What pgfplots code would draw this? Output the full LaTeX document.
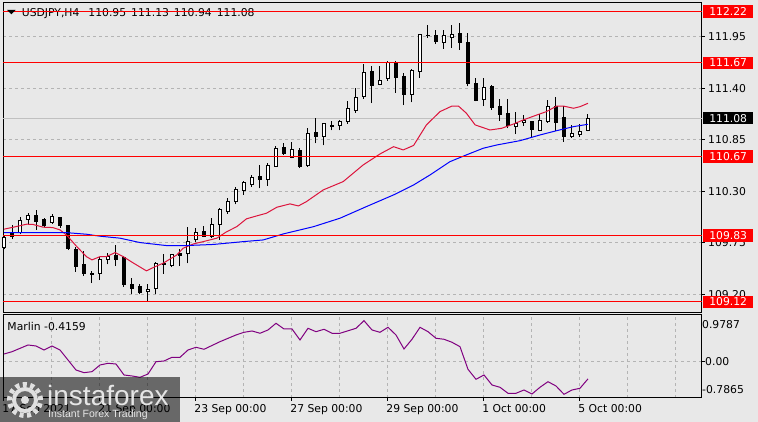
\documentclass[border=0pt]{standalone}
\usepackage{pgfplots}
\pgfplotsset{compat=1.18}
\usepackage{pgfplotstable}
\usepackage{fontspec}
\setmainfont{DejaVu Sans}
\newfontfamily\wmfont{Liberation Sans}
\definecolor{chartbg}{RGB}{232,232,232}
\definecolor{gridc}{RGB}{180,180,180}
\definecolor{bidc}{RGB}{192,192,192}
\definecolor{maRed}{RGB}{220,20,60}
\definecolor{maBlue}{RGB}{0,0,255}
\definecolor{marlinc}{RGB}{128,0,128}
\definecolor{lvl}{RGB}{255,0,0}

\pgfplotstableread{
i o h l c
0 109.70 109.82 109.68 109.81
1 109.85 109.94 109.79 109.82
2 109.86 110.02 109.84 109.99
3 110.00 110.07 109.94 110.04
4 110.04 110.10 109.89 109.98
5 110.00 110.01 109.92 109.93
6 109.97 110.06 109.95 110.03
7 110.02 110.03 109.91 109.93
8 109.93 109.94 109.67 109.69
9 109.68 109.70 109.44 109.50
10 109.52 109.66 109.40 109.42
11 109.41 109.45 109.32 109.42
12 109.42 109.60 109.35 109.57
13 109.57 109.64 109.52 109.60
14 109.61 109.73 109.50 109.57
15 109.59 109.61 109.28 109.30
16 109.30 109.37 109.20 109.26
17 109.28 109.31 109.20 109.22
18 109.23 109.31 109.12 109.25
19 109.26 109.54 109.20 109.53
20 109.52 109.63 109.42 109.53
21 109.51 109.63 109.49 109.62
22 109.64 109.68 109.50 109.61
23 109.63 109.92 109.53 109.76
24 109.78 109.91 109.76 109.86
25 109.87 109.93 109.81 109.82
26 109.82 110.01 109.80 109.95
27 109.95 110.12 109.78 110.10
28 110.08 110.23 110.06 110.19
29 110.19 110.34 110.16 110.32
30 110.31 110.41 110.26 110.39
31 110.37 110.47 110.35 110.45
32 110.46 110.58 110.33 110.43
33 110.43 110.60 110.36 110.58
34 110.56 110.78 110.56 110.76
35 110.77 110.82 110.69 110.70
36 110.66 110.83 110.65 110.75
37 110.74 110.76 110.55 110.56
38 110.57 110.97 110.56 110.92
39 110.93 111.08 110.81 110.88
40 110.88 111.03 110.79 111.02
41 110.995 111.05 110.95 111.00
42 111.00 111.06 110.95 111.04
43 111.04 111.26 111.02 111.18
44 111.16 111.40 111.14 111.30
45 111.31 111.66 111.29 111.57
46 111.58 111.64 111.24 111.43
47 111.44 111.64 111.43 111.48
48 111.50 111.69 111.48 111.67
49 111.66 111.69 111.35 111.51
50 111.52 111.56 111.22 111.33
51 111.33 111.61 111.25 111.59
52 111.58 111.97 111.51 111.97
53 111.96 112.07 111.94 111.965
54 111.96 112.02 111.87 111.90
55 111.89 112.02 111.82 111.96
56 111.94 112.08 111.83 111.97
57 111.98 112.10 111.81 111.89
58 111.89 111.99 111.42 111.45
59 111.45 111.51 111.26 111.27
60 111.28 111.51 111.21 111.41
61 111.42 111.43 111.17 111.19
62 111.20 111.28 111.05 111.12
63 111.13 111.28 110.97 111.00
64 110.99 111.15 110.91 111.02
65 111.03 111.11 111.00 111.05
66 111.04 111.05 110.88 110.96
67 110.95 111.13 110.94 111.06
68 111.04 111.27 111.03 111.21
69 111.21 111.31 110.94 111.03
70 111.09 111.21 110.83 110.88
71 110.88 111.01 110.87 110.92
72 110.91 111.02 110.88 110.94
73 110.95 111.13 110.94 111.08
}\ohlc

\pgfplotstableread{
i v
0 109.895
1.16 109.916
2.84 109.948
3.6 109.946
4.9 109.916
6.1 109.912
7 109.887
7.8 109.834
9.1 109.709
10.3 109.602
11 109.567
12 109.602
12.8 109.602
13.9 109.645
14.9 109.602
16.2 109.532
17.8 109.450
18.9 109.495
19.9 109.532
21.6 109.620
22.4 109.692
23.7 109.738
24.9 109.762
26.6 109.799
27.8 109.866
29.1 109.922
30.3 110.005
31.6 110.037
32.8 110.065
34.1 110.129
35.75 110.165
36.8 110.143
37.8 110.189
39.9 110.314
42.4 110.403
44.9 110.581
47 110.698
48.7 110.776
49.9 110.741
51.2 110.789
52.8 111.008
54.5 111.150
56 111.210
56.8 111.210
57.8 111.133
58.9 111.008
60.75 110.954
62.2 110.972
63.7 111.018
64.9 111.061
66.6 111.114
67.8 111.150
69.1 111.210
69.9 111.210
71.2 111.186
72 111.203
73 111.239
}\mared

\pgfplotstableread{
i v
0 109.858
7.8 109.858
10.3 109.841
12 109.820
14.5 109.799
17 109.752
20.3 109.720
22.8 109.720
26.2 109.732
29.9 109.762
32.4 109.780
34.9 109.844
38.7 109.922
42 110.012
45.3 110.136
48.7 110.261
51.2 110.367
53.25 110.474
55.75 110.616
57.8 110.688
59.9 110.759
61.6 110.794
64.5 110.840
67 110.901
69.1 110.947
71.2 110.990
73 111.015
}\mablue

\pgfplotstableread{
i v
0 0.180
1 0.235
3 0.396
4 0.372
5 0.276
6 0.372
7 0.276
8 0.036
9 -0.204
10 -0.268
11 -0.244
12 -0.084
13 -0.043
14 -0.060
15 -0.323
16 -0.347
17 -0.379
18 -0.300
19 -0.005
20 0.012
21 0.101
22 0.101
23 0.276
24 0.341
25 0.293
27 0.475
29 0.636
30 0.700
31 0.732
32 0.677
33 0.756
34 0.916
35 0.780
36 0.780
37 0.516
38 0.796
39 0.715
40 0.772
41 0.677
42 0.677
44 0.796
45 0.9787
46 0.756
47 0.700
48 0.820
49 0.636
50 0.300
51 0.533
52 0.820
53 0.715
54 0.557
55 0.533
56 0.461
57 0.355
58 -0.187
59 -0.427
60 -0.323
61 -0.563
62 -0.618
63 -0.762
64 -0.762
65 -0.683
66 -0.779
67 -0.618
68 -0.484
69 -0.587
70 -0.7865
71 -0.683
72 -0.642
73 -0.4159
}\marlin

\begin{document}
\fontsize{10.8pt}{13pt}\selectfont
\begin{tikzpicture}
\useasboundingbox (0pt,0pt) rectangle (758pt,422pt);
\fill[chartbg] (0pt,0pt) rectangle (758pt,422pt);

% ---------------- main price panel ----------------
\begin{axis}[
  at={(3pt,109pt)}, anchor=south west,
  width=699pt, height=310pt, scale only axis,
  xmin=-0.125, xmax=87.25, ymin=109.0, ymax=112.31,
  clip=false,
  axis line style={black, line width=1pt},
  xtick=\empty,
  minor xtick={-0.1,5.9,...,84},
  xminorgrids, ymajorgrids,
  minor grid style={gridc, dash pattern=on 3pt off 3pt, line width=1pt},
  major grid style={gridc, dash pattern=on 3pt off 3pt, line width=1pt},
  minor tick length=0pt,
  ytick={109.20,109.75,110.30,110.85,111.40,111.95},
  yticklabels={109.20,109.75,110.30,110.85,111.40,111.95},
  ytick pos=right, yticklabel pos=right,
  ytick style={black, line width=1pt},
  tick align=outside, major tick length=3pt,
  yticklabel style={anchor=west, inner sep=0pt, xshift=3pt},
]
\addplot[bidc, line width=1pt, forget plot] coordinates {(-0.125,111.08) (87.25,111.08)};
\node[anchor=base west, inner sep=0pt] at (axis cs:2.21,112.164)
  {USDJPY,H4\hspace{9pt}110.95\hspace{5pt}111.13\hspace{5pt}110.94\hspace{5pt}111.08};
\pgfplotsinvokeforeach{0,...,73}{%
  \pgfplotstablegetelem{#1}{i}\of\ohlc \let\ci\pgfplotsretval
  \pgfplotstablegetelem{#1}{o}\of\ohlc \let\co\pgfplotsretval
  \pgfplotstablegetelem{#1}{h}\of\ohlc \let\ch\pgfplotsretval
  \pgfplotstablegetelem{#1}{l}\of\ohlc \let\cl\pgfplotsretval
  \pgfplotstablegetelem{#1}{c}\of\ohlc \let\cc\pgfplotsretval
  \pgfmathsetmacro\xl{\ci-0.22}%
  \pgfmathsetmacro\xr{\ci+0.22}%
  \ifdim\cc pt<\co pt \def\cf{black}\else\def\cf{white}\fi
  \edef\tmp{%
    \noexpand\addplot[black, line width=1pt, forget plot] coordinates {(\ci,\cl) (\ci,\ch)};
    \noexpand\addplot[draw=black, line width=1pt, line join=miter, fill=\cf, forget plot] coordinates {(\xl,\co) (\xr,\co) (\xr,\cc) (\xl,\cc) (\xl,\co)};
  }\tmp
}
\addplot[maRed, line width=1pt] table[x=i, y=v] {\mared};
\addplot[maBlue, line width=1pt] table[x=i, y=v] {\mablue};
\addplot[lvl, line width=1pt] coordinates {(-0.125,112.22) (87.25,112.22)};
\addplot[lvl, line width=1pt] coordinates {(-0.125,111.67) (87.25,111.67)};
\addplot[lvl, line width=1pt] coordinates {(-0.125,110.67) (87.25,110.67)};
\addplot[lvl, line width=1pt] coordinates {(-0.125,109.83) (87.25,109.83)};
\addplot[lvl, line width=1pt] coordinates {(-0.125,109.12) (87.25,109.12)};
\coordinate (L1) at (axis cs:87.25,112.22);
\coordinate (L2) at (axis cs:87.25,111.67);
\coordinate (L3) at (axis cs:87.25,110.67);
\coordinate (L4) at (axis cs:87.25,109.83);
\coordinate (L5) at (axis cs:87.25,109.12);
\coordinate (LB) at (axis cs:87.25,111.08);
\end{axis}

% ---------------- Marlin panel ----------------
\begin{axis}[
  at={(3pt,24pt)}, anchor=south west,
  width=699pt, height=83pt, scale only axis,
  xmin=-0.125, xmax=87.25, ymin=-0.875, ymax=1.115,
  clip=false,
  axis line style={black, line width=1pt},
  xtick={-0.1,11.9,23.9,35.9,47.9,59.9,71.9},
  xticklabels={17 Sep 2021,21 Sep 00:00,23 Sep 00:00,27 Sep 00:00,29 Sep 00:00,1 Oct 00:00,5 Oct 00:00},
  xtick pos=left,
  xticklabel style={anchor=north west, inner sep=0pt, xshift=-1pt, yshift=-3pt},
  minor xtick={-0.1,5.9,...,84},
  xminorgrids, ymajorgrids,
  minor grid style={gridc, dash pattern=on 3pt off 3pt, line width=1pt},
  major grid style={gridc, dash pattern=on 3pt off 3pt, line width=1pt},
  minor tick length=0pt,
  tick align=outside, major tick length=3pt,
  tick style={black, line width=1pt},
  ytick={0}, yticklabels={0.00},
  extra y ticks={0.892,-0.683},
  extra y tick labels={0.9787,-0.7865},
  extra y tick style={grid=none, major tick length=0pt},
  ytick pos=right, yticklabel pos=right,
  yticklabel style={anchor=west, inner sep=0pt, xshift=0pt},
]
\node[anchor=base west, inner sep=0pt] at (axis cs:0.41,0.744) {Marlin -0.4159};
\addplot[marlinc, line width=1pt] table[x=i, y=v] {\marlin};
\end{axis}

% price labels on the scale
\foreach \c/\t in {L1/112.22,L2/111.67,L3/110.67,L4/109.83,L5/109.12}{
  \node[fill=lvl, text=white, anchor=west, minimum width=50pt, minimum height=12.5pt, inner sep=0pt, xshift=1pt] at (\c) {\t};
}
\node[fill=black, text=white, anchor=west, minimum width=50pt, minimum height=12.5pt, inner sep=0pt, xshift=1pt] at (LB) {111.08};

% small triangle at top left
\fill[black] (7pt,412pt) -- (15.7pt,412pt) -- (11.35pt,407.7pt) -- cycle;

% watermark
\fill[black, opacity=0.55] (0pt,0pt) rectangle (180pt,45pt);
\draw[white!88!black, line width=4pt] (25pt,22pt) circle (11pt);
\draw[white!88!black, line width=5pt, dash pattern=on 4pt off 3.5pt] (25pt,22pt) circle (15.5pt);
\fill[white!88!black] (25pt,22pt) circle (4pt);
\node[anchor=base west, inner sep=0pt, text=white!90!black, font=\wmfont\fontsize{28}{30}\selectfont] at (47pt,16pt) {instaforex};
\node[anchor=base west, inner sep=0pt, text=white!90!black, font=\wmfont\fontsize{10.5}{12}\selectfont] at (48pt,4.5pt) {Instant Forex Trading};
\end{tikzpicture}
\end{document}
